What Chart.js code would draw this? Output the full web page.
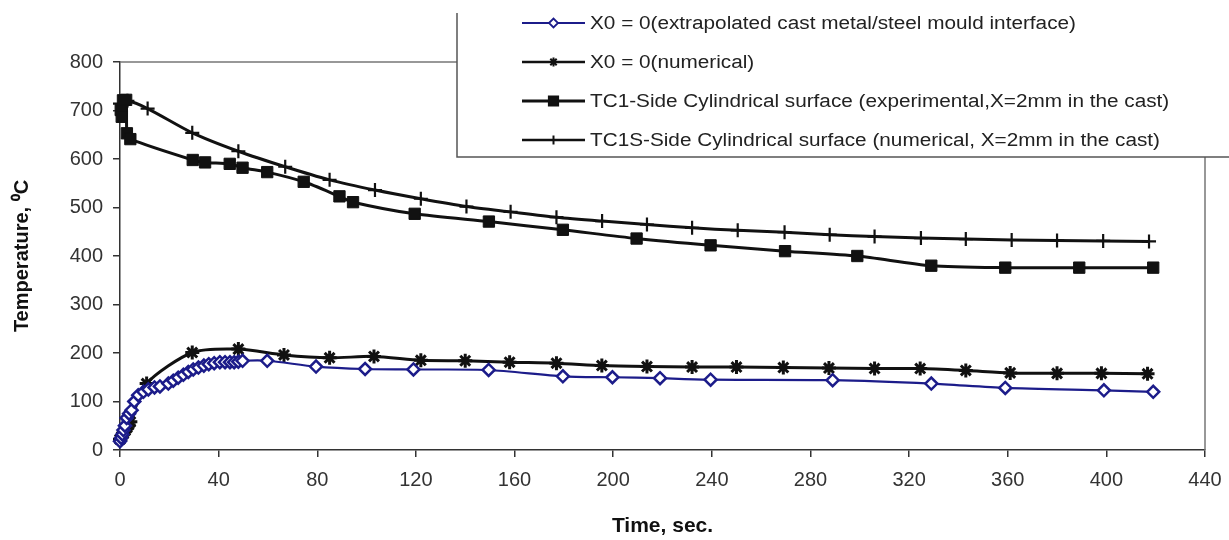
<!DOCTYPE html>
<html><head><meta charset="utf-8">
<script src="https://cdn.jsdelivr.net/npm/chart.js@4/dist/chart.umd.min.js"></script>
<style>html,body{margin:0;padding:0;background:#fff;overflow:hidden}#wrap{width:1229px;height:540px;position:relative}</style>
</head><body><div id="wrap"><canvas id="c"></canvas></div>
<script>
// ---- data ----
const xTickValues = [0,40,80,120,160,200,240,280,320,360,400,440];
const yTickValues = [0,100,200,300,400,500,600,700,800];

const seriesLabels = [
  'X0 = 0(extrapolated cast metal/steel mould interface)',
  'X0 = 0(numerical)',
  'TC1-Side Cylindrical surface (experimental,X=2mm in the cast)',
  'TC1S-Side Cylindrical surface (numerical, X=2mm in the cast)'
];

const extrapTime = [0,0.5,1,1.4,2,2.7,3.7,4.7,5.8,7.4,9.5,11.5,14,16.2,19.6,21.6,23.6,25.7,27.7,29.7,31.8,34,36,38.2,40.5,42.6,44.6,46.3,48,49.7,59.7,79.5,99.4,119,149.5,179.6,199.7,219,239.5,289,329,359,399,419];
const extrapTemp = [18,25,32,41,50,66,75,82,100,113,120,125,129,131,137,143,149,155,161,166,170,174,177,179,181,181,181,181,182,184,184,172,167,166,165,152,150,148,145,144,137,128,123,120];

const x0NumTime = [0,0.7,1.4,2.1,2.8,3.5,4.2,10.8,29.3,48,66.5,85,103,122,140,158,177,195.4,213.7,232,250,269,287.5,306,324.5,343,361,380,398,416.7];
const x0NumTemp = [22,28,34,40,46,52,58,137,201,208,196,190,193,185,184,181,179,174,172,171,171,170,169,168,168,164,159,158,158,157];

const tc1Time = [0.3,0.7,1.2,2.5,2.8,4.2,29.5,34.5,44.5,49.7,59.7,74.5,89,94.5,119.5,149.6,179.6,209.5,239.5,269.7,299,329,359,389,419];
const tc1Temp = [701,687,721,722,653,641,598,593,590,582,573,553,523,511,487,471,454,436,422,410,400,380,376,376,376];

const tc1sTime = [0,3,11.2,29.3,48,67,85,103.4,122,140.5,158.4,177,195.5,213.7,232,250.5,269.5,287.8,306,324.8,343,361.6,380,398.7,417.3];
const tc1sTemp = [714,720,704,654,616,584,557,536,518,502,491,480,472,465,458,453,449,444,440,437,435,433,432,431,430];

const pairs = (xs, ys) => xs.map((x, i) => ({x: x, y: ys[i]}));

const NAVY = '#1c1c8a';
const BLACK = '#111';

const datasets = [
  {label: seriesLabels[0], data: pairs(extrapTime, extrapTemp), borderColor: NAVY, backgroundColor: '#fff',
   pointStyle: 'rectRot', pointRadius: 6, pointBorderWidth: 2.5, borderWidth: 2.2, legendRadius: 4.5, legendLineWidth: 2},
  {label: seriesLabels[1], data: pairs(x0NumTime, x0NumTemp), borderColor: BLACK, backgroundColor: BLACK,
   pointStyle: 'star', pointRadius: 7, pointBorderWidth: 3, borderWidth: 3, legendRadius: 4.5, legendLineWidth: 2.5},
  {label: seriesLabels[2], data: pairs(tc1Time, tc1Temp), borderColor: BLACK, backgroundColor: BLACK,
   pointStyle: 'rect', pointRadius: 8, pointBorderWidth: 1, borderWidth: 3, legendRadius: 6.5, legendLineWidth: 3},
  {label: seriesLabels[3], data: pairs(tc1sTime, tc1sTemp), borderColor: BLACK, backgroundColor: BLACK,
   pointStyle: 'cross', pointRadius: 7, pointBorderWidth: 2.2, borderWidth: 3, legendRadius: 4.5, legendLineWidth: 2.5, legendStyle: 'line', legendRotation: 90}
].map(d => Object.assign({showLine: true, tension: 0.25, clip: false, pointHoverRadius: d.pointRadius}, d));

datasets.forEach((d, i) => d.order = i);

const framePlugin = {
  id: 'frame',
  beforeDatasetsDraw(chart) {
    const {ctx, chartArea: a} = chart;
    ctx.save();
    ctx.strokeStyle = '#777';
    ctx.lineWidth = 1.5;
    ctx.beginPath();
    ctx.moveTo(a.left, a.top);
    ctx.lineTo(a.right, a.top);
    ctx.lineTo(a.right, a.bottom);
    ctx.stroke();
    ctx.restore();
  }
};

const legendPlugin = {
  id: 'boxLegend',
  afterDraw(chart) {
    const ctx = chart.ctx;
    const boxL = 457, boxB = 157, boxT = 13;
    ctx.save();
    ctx.fillStyle = '#fff';
    ctx.fillRect(boxL, 0, chart.width - boxL, boxB);
    ctx.strokeStyle = '#555';
    ctx.lineWidth = 1.5;
    ctx.beginPath();
    ctx.moveTo(boxL, boxT);
    ctx.lineTo(boxL, boxB);
    ctx.lineTo(chart.width, boxB);
    ctx.stroke();

    const rows = [23, 62, 101, 140];
    const lineX0 = 522, lineX1 = 585, textX = 590;
    ctx.font = '18px "Liberation Sans", Arial, sans-serif';
    const targetW = 1160 - textX;
    const w4 = ctx.measureText(chart.data.datasets[3].label).width;
    const sx = targetW / w4;
    chart.data.datasets.forEach((ds, i) => {
      const y = rows[i];
      ctx.strokeStyle = ds.borderColor;
      ctx.lineWidth = ds.legendLineWidth;
      ctx.beginPath();
      ctx.moveTo(lineX0, y);
      ctx.lineTo(lineX1, y);
      ctx.stroke();
      ctx.fillStyle = ds.backgroundColor;
      ctx.lineWidth = i === 0 ? 1.8 : 2;
      Chart.helpers.drawPoint(ctx, {
        pointStyle: ds.legendStyle || ds.pointStyle,
        radius: ds.legendRadius,
        rotation: ds.legendRotation || 0,
        borderWidth: ctx.lineWidth
      }, (lineX0 + lineX1) / 2, y);
      ctx.save();
      ctx.translate(textX, y);
      ctx.scale(sx, 1);
      ctx.fillStyle = '#222';
      ctx.textBaseline = 'middle';
      ctx.textAlign = 'left';
      ctx.fillText(ds.label, 0, 1);
      ctx.restore();
    });
    ctx.restore();
  }
};

const tickFont = {family: '"Liberation Sans", Arial, sans-serif', size: 20};
const titleFont = {family: '"Liberation Sans", Arial, sans-serif', size: 21, weight: 'bold'};

new Chart(document.getElementById('c'), {
  type: 'scatter',
  data: {datasets: datasets},
  options: {
    responsive: true,
    maintainAspectRatio: false,
    animation: false,
    layout: {padding: {left: 7, right: 24, top: 62, bottom: 0}},
    plugins: {legend: {display: false}, tooltip: {enabled: false}},
    scales: {
      x: {
        type: 'linear', min: 0, max: 440,
        afterBuildTicks: s => { s.ticks = xTickValues.map(v => ({value: v})); },
        afterFit: s => { s.height = 90; s.paddingRight = 0; s.paddingLeft = 0; },
        ticks: {font: tickFont, color: '#333', padding: 11, maxRotation: 0, autoSkip: false},
        grid: {drawOnChartArea: false, tickLength: 7, color: '#333', lineWidth: 1.5},
        border: {color: '#333', width: 1.5},
        title: {display: true, text: 'Time, sec.', font: titleFont, color: '#111', padding: {top: 4, bottom: 1}}
      },
      y: {
        type: 'linear', min: 0, max: 800,
        afterBuildTicks: s => { s.ticks = yTickValues.map(v => ({value: v})); },
        afterFit: s => { s.width = 113; s.paddingTop = 0; s.paddingBottom = 0; },
        ticks: {font: tickFont, color: '#333', padding: 10},
        grid: {drawOnChartArea: false, tickLength: 7, color: '#333', lineWidth: 1.5},
        border: {color: '#333', width: 1.5},
        title: {display: true, text: 'Temperature, \u2070C', font: {family: '"Liberation Sans", Arial, sans-serif', size: 20, weight: 'bold'}, color: '#111', padding: {top: 3, bottom: 4}}
      }
    }
  },
  plugins: [framePlugin, legendPlugin]
});
</script>
</body></html>
